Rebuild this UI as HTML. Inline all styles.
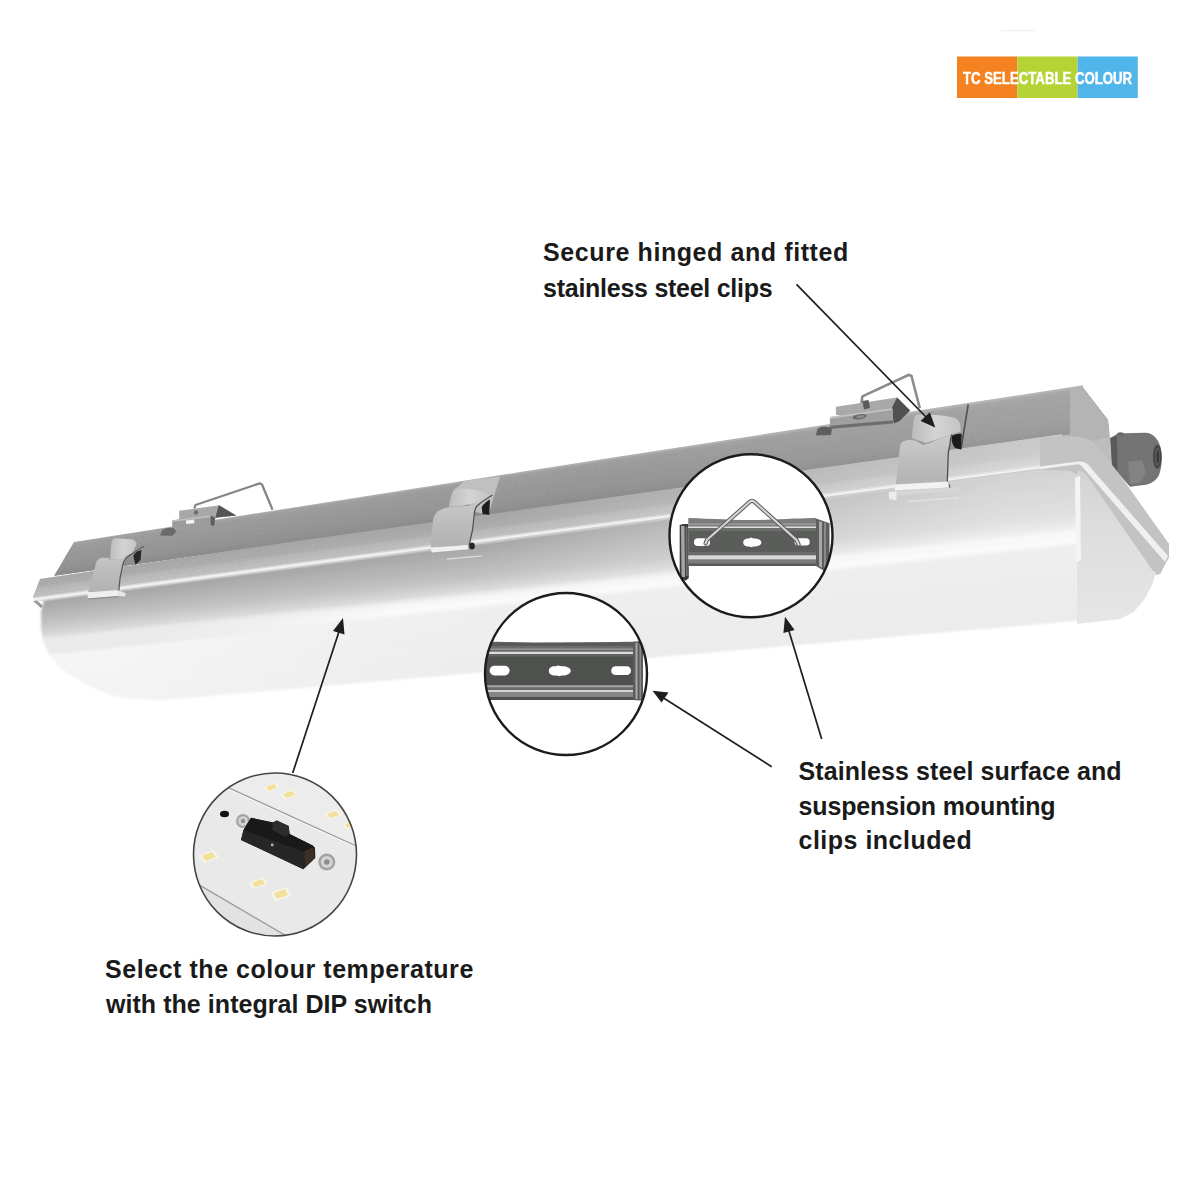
<!DOCTYPE html>
<html><head><meta charset="utf-8"><style>
html,body{margin:0;padding:0;background:#fff;}
#root{position:relative;width:1200px;height:1200px;overflow:hidden;background:#fff;}
svg{position:absolute;left:0;top:0;}
.t{position:absolute;font-family:"Liberation Sans",sans-serif;font-weight:bold;color:#1a1a1a;white-space:nowrap;font-size:25px;line-height:25px;}
</style></head><body><div id="root">
<svg width="1200" height="1200" viewBox="0 0 1200 1200">
<defs>
<clipPath id="chous"><polygon points="74.0,542.0 600.0,459.4 1083.0,385.3 1083.0,387.5 1108.0,420.0 1109.0,440.0 1087.0,441.0 1070.0,438.0 1060.0,438.0 1000.0,443.8 500.0,513.7 54.0,576.0 54.0,576.0"/></clipPath>
<clipPath id="crim"><polygon points="40.0,579.0 300.0,540.6 800.0,470.8 1062.0,434.1 1062.0,467.4 900.0,488.7 500.0,541.2 44.0,601.1 44.0,601.0 34.0,600.0 33.0,597.0"/></clipPath>
<clipPath id="cdiff"><path d="M 44,600 L 500.0,540.7 L 1078.0,464.3 L 1078,620.8 L 500.0,670.9 L 165,699.9 L 135,699 L 114,696 L 94.5,688.5 L 75,678 L 60,667.5 L 49.5,655.5 L 43.5,642 L 41.2,630 L 41.2,612 Z"/></clipPath>
<filter id="bl0" x="-5%" y="-5%" width="110%" height="110%"><feGaussianBlur stdDeviation="0.45"/></filter>
<filter id="bl1" x="-5%" y="-5%" width="110%" height="110%"><feGaussianBlur stdDeviation="0.6"/></filter>
<filter id="bl2" x="-5%" y="-5%" width="110%" height="110%"><feGaussianBlur stdDeviation="0.9"/></filter>
</defs>
<g filter="url(#bl2)"><g clip-path="url(#cdiff)">
<polygon points="0.0,604.1 1200.0,446.5 1200.0,449.1 0.0,606.7" fill="#a8a8a8"/>
<polygon points="0.0,606.1 1200.0,448.5 1200.0,451.1 0.0,608.7" fill="#a7a7a7"/>
<polygon points="0.0,608.1 1200.0,450.5 1200.0,456.1 0.0,610.6" fill="#a7a7a7"/>
<polygon points="0.0,610.0 1200.0,455.5 1200.0,461.1 0.0,612.6" fill="#aaaaaa"/>
<polygon points="0.0,612.0 1200.0,460.5 1200.0,466.2 0.0,614.5" fill="#adadad"/>
<polygon points="0.0,613.9 1200.0,465.6 1200.0,471.2 0.0,616.4" fill="#b0b0b0"/>
<polygon points="0.0,615.8 1200.0,470.6 1200.0,476.2 0.0,618.4" fill="#b3b3b3"/>
<polygon points="0.0,617.8 1200.0,475.6 1200.0,481.2 0.0,620.3" fill="#b5b5b5"/>
<polygon points="0.0,619.7 1200.0,480.6 1200.0,486.2 0.0,622.3" fill="#b8b8b8"/>
<polygon points="0.0,621.7 1200.0,485.6 1200.0,491.3 0.0,624.2" fill="#bbbbbb"/>
<polygon points="0.0,623.6 1200.0,490.7 1200.0,496.3 0.0,626.2" fill="#bebebe"/>
<polygon points="0.0,625.6 1200.0,495.7 1200.0,501.3 0.0,628.1" fill="#c1c1c1"/>
<polygon points="0.0,627.5 1200.0,500.7 1200.0,503.5 0.0,630.3" fill="#c4c4c4"/>
<polygon points="0.0,629.7 1200.0,502.9 1200.0,505.6 0.0,632.4" fill="#c8c8c8"/>
<polygon points="0.0,631.8 1200.0,505.0 1200.0,507.8 0.0,634.6" fill="#cccccc"/>
<polygon points="0.0,634.0 1200.0,507.2 1200.0,510.0 0.0,636.8" fill="#d0d0d0"/>
<polygon points="0.0,636.2 1200.0,509.4 1200.0,512.1 0.0,638.9" fill="#d4d4d4"/>
<polygon points="0.0,638.3 1200.0,511.5 1200.0,514.3 0.0,641.1" fill="#d8d8d8"/>
<polygon points="0.0,640.5 1200.0,513.7 1200.0,516.3 0.0,643.1" fill="#dedede"/>
<polygon points="0.0,642.5 1200.0,515.7 1200.0,518.3 0.0,645.1" fill="#e8e8e8"/>
<polygon points="0.0,644.5 1200.0,517.7 1200.0,520.3 0.0,647.1" fill="#f0f0f0"/>
<polygon points="0.0,646.5 1200.0,519.7 1200.0,522.3 0.0,649.1" fill="#f6f6f6"/>
<polygon points="0.0,648.5 1200.0,521.7 1200.0,524.3 0.0,651.1" fill="#f7f7f7"/>
<polygon points="0.0,650.5 1200.0,523.7 1200.0,526.3 0.0,653.1" fill="#f9f9f9"/>
<polygon points="0.0,652.5 1200.0,525.7 1200.0,528.3 0.0,655.1" fill="#fafafa"/>
<polygon points="0.0,654.5 1200.0,527.7 1200.0,530.3 0.0,657.1" fill="#f9f9f9"/>
<polygon points="0.0,656.5 1200.0,529.7 1200.0,532.3 0.0,659.1" fill="#f4f4f4"/>
<polygon points="0.0,658.5 1200.0,531.7 1200.0,534.3 0.0,661.1" fill="#f0f0f0"/>
<polygon points="0.0,660.5 1200.0,533.7 1200.0,541.9 0.0,666.4" fill="#eeeeee"/>
<polygon points="0.0,665.8 1200.0,541.3 1200.0,549.6 0.0,671.8" fill="#eeeeee"/>
<polygon points="0.0,671.2 1200.0,549.0 1200.0,557.2 0.0,677.1" fill="#eeeeee"/>
<polygon points="0.0,676.5 1200.0,556.6 1200.0,564.8 0.0,682.5" fill="#ededed"/>
<polygon points="0.0,681.9 1200.0,564.2 1200.0,572.4 0.0,687.8" fill="#ededed"/>
<polygon points="0.0,687.2 1200.0,571.8 1200.0,580.1 0.0,693.2" fill="#ededed"/>
<polygon points="0.0,692.6 1200.0,579.5 1200.0,587.7 0.0,698.5" fill="#ededed"/>
<polygon points="0.0,697.9 1200.0,587.1 1200.0,595.3 0.0,703.8" fill="#ececec"/>
<polygon points="0.0,703.2 1200.0,594.7 1200.0,602.9 0.0,709.2" fill="#ececec"/>
<polygon points="0.0,708.6 1200.0,602.3 1200.0,610.6 0.0,714.5" fill="#ececec"/>
<linearGradient id="govd" gradientUnits="userSpaceOnUse" x1="480" y1="0" x2="1000" y2="0"><stop offset="0" stop-color="#fff" stop-opacity="0"/><stop offset="1" stop-color="#fff" stop-opacity="0.5"/></linearGradient>
<polygon points="300.0,565.0 1080.0,462.6 1080.0,533.7 300.0,616.1" fill="url(#govd)"/>
<linearGradient id="govl" gradientUnits="userSpaceOnUse" x1="120" y1="0" x2="520" y2="0"><stop offset="0" stop-color="#fff" stop-opacity="0.4"/><stop offset="1" stop-color="#fff" stop-opacity="0"/></linearGradient>
<polygon points="30.0,650.6 600.0,590.4 600.0,665.3 30.0,714.6" fill="url(#govl)"/>
<linearGradient id="govw" gradientUnits="userSpaceOnUse" x1="150" y1="0" x2="400" y2="0"><stop offset="0" stop-color="#e9e9e9" stop-opacity="0.95"/><stop offset="1" stop-color="#e9e9e9" stop-opacity="0"/></linearGradient>
<polygon points="30.0,641.6 400.0,602.5 400.0,617.5 30.0,656.6" fill="url(#govw)"/>
</g></g>
<linearGradient id="gend" x1="0" y1="0" x2="0" y2="1"><stop offset="0" stop-color="#d2d2d2"/><stop offset="0.45" stop-color="#dedede"/><stop offset="1" stop-color="#e6e6e6"/></linearGradient>
<polygon points="1070,389 1083,387.5 1108,420 1110,436 1113,487 1150,522 1169,544 1169,557 1160,574 1140,578 1085,480 1070,470" fill="#bdbdbd"/>
<polygon points="1077,466 1086,469 1158,566 1152,585 1144,600 1134,612 1120,619 1077,624" fill="url(#gend)"/>
<polygon points="1075,478 1080,476 1081,560 1076,563" fill="#f4f4f4"/>
<polygon points="1040,430 1076,428 1076,446 1040,446" fill="#b4b4b4"/>
<g filter="url(#bl0)"><g clip-path="url(#chous)">
<polygon points="0.0,550.2 1200.0,366.0 1200.0,370.1 0.0,554.3" fill="#aeaeae"/>
<polygon points="0.0,553.7 1200.0,369.5 1200.0,372.6 0.0,556.8" fill="#a0a0a0"/>
<polygon points="0.0,556.2 1200.0,372.0 1200.0,376.7 0.0,558.8" fill="#9c9c9c"/>
<polygon points="0.0,558.2 1200.0,376.1 1200.0,380.7 0.0,560.8" fill="#9a9a9a"/>
<polygon points="0.0,560.2 1200.0,380.1 1200.0,384.8 0.0,562.8" fill="#9a9a9a"/>
<polygon points="0.0,562.2 1200.0,384.2 1200.0,388.9 0.0,564.8" fill="#989898"/>
<polygon points="0.0,564.2 1200.0,388.3 1200.0,392.9 0.0,566.8" fill="#989898"/>
<polygon points="0.0,566.2 1200.0,392.3 1200.0,397.0 0.0,568.8" fill="#969696"/>
<polygon points="0.0,568.2 1200.0,396.4 1200.0,401.1 0.0,570.9" fill="#969696"/>
<polygon points="0.0,570.3 1200.0,400.5 1200.0,405.2 0.0,572.9" fill="#949494"/>
<polygon points="0.0,572.3 1200.0,404.6 1200.0,407.4 0.0,575.1" fill="#939393"/>
<polygon points="0.0,574.5 1200.0,406.8 1200.0,409.6 0.0,577.3" fill="#929292"/>
<polygon points="0.0,576.7 1200.0,409.0 1200.0,411.8 0.0,579.5" fill="#909090"/>
<polygon points="0.0,578.9 1200.0,411.2 1200.0,414.0 0.0,581.7" fill="#8e8e8e"/>
<polygon points="0.0,581.1 1200.0,413.4 1200.0,416.2 0.0,583.9" fill="#8d8d8d"/>
<linearGradient id="govh" gradientUnits="userSpaceOnUse" x1="600" y1="0" x2="1080" y2="0"><stop offset="0" stop-color="#fff" stop-opacity="0"/><stop offset="1" stop-color="#fff" stop-opacity="0.1"/></linearGradient>
<polygon points="500.0,472.7 1090.0,382.2 1090.0,432.2 500.0,514.7" fill="url(#govh)"/>
<polygon points="1070,389 1083,387.5 1108,420 1109,437 1089,441.5 1070,438" fill="#b4b4b4"/>
</g></g>
<g clip-path="url(#crim)">
<polygon points="0.0,582.3 1200.0,414.6 1200.0,418.3 0.0,584.3" fill="#a6a6a6"/>
<polygon points="0.0,583.7 1200.0,417.7 1200.0,421.5 0.0,585.8" fill="#a7a7a7"/>
<polygon points="0.0,585.2 1200.0,420.9 1200.0,424.6 0.0,587.3" fill="#a8a8a8"/>
<polygon points="0.0,586.7 1200.0,424.0 1200.0,427.8 0.0,588.7" fill="#a9a9a9"/>
<polygon points="0.0,588.1 1200.0,427.2 1200.0,430.9 0.0,590.2" fill="#aaaaaa"/>
<polygon points="0.0,589.6 1200.0,430.3 1200.0,434.1 0.0,591.7" fill="#ababab"/>
<polygon points="0.0,591.1 1200.0,433.5 1200.0,436.1 0.0,593.7" fill="#b0b0b0"/>
<polygon points="0.0,593.1 1200.0,435.5 1200.0,438.2 0.0,595.8" fill="#b7b7b7"/>
<polygon points="0.0,595.2 1200.0,437.6 1200.0,440.3 0.0,597.9" fill="#b9b9b9"/>
<polygon points="0.0,597.3 1200.0,439.7 1200.0,442.5 0.0,600.1" fill="#bcbcbc"/>
<polygon points="0.0,599.5 1200.0,441.9 1200.0,444.6 0.0,602.2" fill="#bebebe"/>
<polygon points="0.0,601.6 1200.0,444.0 1200.0,445.9 0.0,603.5" fill="#d8d8d8"/>
<polygon points="0.0,602.9 1200.0,445.3 1200.0,448.3 0.0,605.9" fill="#f0f0f0"/>
<polygon points="0.0,605.3 1200.0,447.7 1200.0,449.6 0.0,607.2" fill="#cccccc"/>
<linearGradient id="govr" gradientUnits="userSpaceOnUse" x1="500" y1="0" x2="1070" y2="0"><stop offset="0" stop-color="#fff" stop-opacity="0"/><stop offset="1" stop-color="#fff" stop-opacity="0.42"/></linearGradient>
<polygon points="300.0,540.6 1080.0,431.6 1080.0,460.6 300.0,563.0" fill="url(#govr)"/>
</g>
<path d="M1110.3,438 L1117,434 L1124,433.3 L1145,432.7 C1152,432.5 1158,438 1160.5,447 C1162.5,455 1162,468 1159,475 C1156,481 1150,484.5 1144,485 L1130,486.7 L1112,466 Z" fill="#747474"/>
<path d="M1110.3,438 L1117,436 L1117.5,472 L1112,466 Z" fill="#5a5a5a"/>
<ellipse cx="1120.5" cy="434.3" rx="3.5" ry="2" fill="#6a6a6a"/>
<path d="M1128,462 L1142,460 L1146,472 L1140,483 L1130,484 Z" fill="#838383"/>
<ellipse cx="1157.3" cy="456.7" rx="4.4" ry="12" fill="#474747"/>
<ellipse cx="1157.6" cy="456.7" rx="2.6" ry="9" fill="#5c5c5c"/>
<ellipse cx="1157.8" cy="456.7" rx="1.4" ry="6.5" fill="#3a3a3a"/>
<path d="M1040,437.2 L1070.5,436.2 C1078,437 1084,438 1087,439 C1092,441 1096,444 1099,448 L1120,475 L1169,544 L1169,557 L1160,574 L1153,571 L1090,480 C1087,475 1084,472 1080,471 L1040,469.8 Z" fill="#c3c3c3"/>
<path d="M1040,466.6 L1078,461.6 C1083,461.6 1087,462.3 1090,467 L1168,556 L1165,562 L1086,471 C1084,469 1081,464.3 1078,464.3 L1040,469.3 Z" fill="#f0f0f0"/>
<!-- ===== LEFT BRACKET (top) ===== -->
<g id="lbr">
<polyline points="194.3,508.5 195.5,505 259.7,483.4 262,484.5 272.5,509.7" fill="none" stroke="#858585" stroke-width="2.3" stroke-linejoin="round"/>
<path d="M160,535.5 L162.5,530 C165,528 170,527.5 173.5,528 L176.5,531.5 L172.5,535.8 Z" fill="#6a6a6a"/>
<polygon points="179.2,510.8 217.7,505.6 236.3,515.5 215.3,517.8 179.2,520.5" fill="#a8a8a8"/>
<polygon points="218.8,505 236.3,515.5 215.3,517.8" fill="#555"/>
<polygon points="172.2,520.2 210.7,515.5 212,516 212,524.8 172.2,528.3" fill="#9c9c9c"/>
<polygon points="172.2,520.2 210.7,515.5 210.7,517 172.2,521.7" fill="#c2c2c2"/>
<polygon points="210.7,515.5 215.3,517.8 214,526 210.7,525" fill="#5e5e5e"/>
<rect x="186" y="520" width="8.3" height="3.6" fill="#f4f4f4" transform="rotate(-6 190 522)"/>
<circle cx="196" cy="512.5" r="2.2" fill="#6e6e6e"/>
</g>
<!-- ===== RIGHT BRACKET (top) ===== -->
<g id="rbr">
<polyline points="861.3,404 862.4,396.4 909,374.8 911.5,376 919.8,408.3" fill="none" stroke="#8c8c8c" stroke-width="2.6" stroke-linejoin="round"/>
<path d="M815.8,435.4 L817.5,429 C819,427 823,426.6 826,426.8 L832,428 L831,435 Z" fill="#5e5e5e"/>
<polygon points="835.9,406.7 897.1,397.5 910.1,410.5 893.8,423.5 835.9,414.8" fill="#a9a9a9"/>
<polygon points="897.1,397.5 910.1,410.5 899.3,421.3 893.8,423.5 891.7,408.3" fill="#505050"/>
<polygon points="829.9,417 891.7,408.3 893,409 893,420.3 829.9,425.7" fill="#a0a0a0"/>
<polygon points="829.9,417 891.7,408.3 891.7,410 829.9,418.8" fill="#c4c4c4"/>
<polygon points="829.9,425.7 893,420.3 893,423.5 829.9,429" fill="#6e6e6e"/>
<ellipse cx="859.7" cy="416.7" rx="7" ry="2.6" fill="#6a6a6a" transform="rotate(-8 859.7 416.7)"/>
<ellipse cx="860.5" cy="416.6" rx="4" ry="1.3" fill="#8e8e8e" transform="rotate(-8 860.5 416.6)"/>
<path d="M862.4,401 L868.5,400 L870,408 L864,409.4 Z" fill="#5a5a5a"/>
</g>
<defs>
<linearGradient id="gclipf" x1="0" y1="0" x2="0" y2="1"><stop offset="0" stop-color="#cccccc"/><stop offset="0.5" stop-color="#bdbdbd"/><stop offset="1" stop-color="#b2b2b2"/></linearGradient>
<linearGradient id="gclipb" x1="0" y1="0" x2="1" y2="0"><stop offset="0" stop-color="#bcbcbc"/><stop offset="0.5" stop-color="#d4d4d4"/><stop offset="1" stop-color="#c4c4c4"/></linearGradient>
</defs>
<!-- ===== LEFT CLIP ===== -->
<g id="lclip">
<path d="M110,559.7 L111,545 C111.5,540 113,538.3 116,538.3 L131,539.2 C134,539.7 136,541.5 136.7,543.7 L133,552 L120,559.7 Z" fill="url(#gclipb)"/>
<path d="M133.3,556 C135,552.5 138,550.5 141.5,549.5 L140.5,560 L135.5,565 Z" fill="#262626"/>
<path d="M88,592 L95.3,566.3 C95.8,563 96.5,561.5 97.3,560.3 C99,558.5 100.5,557.8 102,557.7 L108,557.7 C109,558 109.5,558.8 110,559.7 L120,559.7 C122,558 124.5,555.5 126.7,554.3 C129,553.2 131,552.8 133.3,552.3 C136,551.6 138,551 140,550.3 C141.5,549.3 143,547.8 144,546.3 C140,549 134,552.5 130,555 C126,557.5 123.5,561 122.7,565 L120,578.3 L118.7,591.7 Z" fill="url(#gclipf)"/>
<path d="M144,546.3 C140,549 134,552.5 130,555 C126,557.5 123.5,561 122.7,565 L120,578.3 L118.7,591.7" fill="none" stroke="#555" stroke-width="1.2"/>
<polygon points="87,592.5 117.5,590 118.5,596 88,598.5" fill="#efefef"/>
<line x1="88" y1="599" x2="118.5" y2="596.5" stroke="#8a8a8a" stroke-width="1"/>
<polygon points="117.5,590 126,593.5 125,596.5 118.5,596" fill="#e6e6e6"/>
<polygon points="33,601 37,600.5 43,606 41,608" fill="#9a9a9a"/>
</g>
<!-- ===== MIDDLE CLIP ===== -->
<g id="mclip">
<path d="M455.8,488.3 L465,480.8 L500,476.7 L488.3,515 L476,512 Z" fill="#c0c0c0"/>
<path d="M449,507 C450,498 452,491 455.8,488.3 C466,488.5 478,490 486.7,493.3 C488.5,494.5 489.5,496 490,497.5 C482,501 470,504.5 458,506.5 Z" fill="url(#gclipb)"/>
<path d="M481.7,507 C484,503.5 487,501 490,499.5 L489.2,515 L482.5,514 Z" fill="#1c1c1c"/>
<path d="M430.8,547.5 L433,520 C434,515 436.5,511.5 440,510 C443,508.5 445,507.8 447.5,507.5 C452,507 455,506.7 457.5,506.7 C463,506.2 468,505.7 473.3,505 C476,503.8 478,502.5 480,501.5 C484,499 488,497 492.5,495 C486,499 480,503 477,506 C475,508 474.6,511 474.3,514 L472.5,530 L469.2,545 Z" fill="url(#gclipf)"/>
<path d="M492.5,495 C486,499 480,503 477,506 C475,508 474.6,511 474.3,514 L472.5,530 L469.2,545" fill="none" stroke="#4e4e4e" stroke-width="1.2"/>
<polygon points="430.8,548.3 467.5,545 468.3,549.2 431.7,552.5" fill="#f0f0f0"/>
<ellipse cx="472" cy="546" rx="2.8" ry="3.5" fill="#262626"/>
<line x1="446.7" y1="559.2" x2="481.7" y2="555.8" stroke="#dcdcdc" stroke-width="1.3"/>
</g>
<!-- ===== RIGHT CLIP ===== -->
<g id="rclip">
<line x1="968.2" y1="404.5" x2="961" y2="449.2" stroke="#505050" stroke-width="1.6"/>
<path d="M911.8,438 L913.5,420 C914,416 916,414.2 920,414.2 C935,414.5 950,415.5 956,418.5 C960,421 961,426 960.7,431.4 L952,434.3 C945,436.5 935,440 926,443 Z" fill="url(#gclipb)"/>
<path d="M952,436 C955,434 959,433.5 961.7,434 L961,449.6 L955,448 C952,444 951,440 952,436 Z" fill="#1c1c1c"/>
<path d="M895.5,486 L900,446 C900.5,443 903,441 906,440.5 L909,440 C912,440 914.5,440.5 916.6,441 C919,442.5 921,444.5 923.4,444.9 C926,444.5 928,443.5 930,443 C933,441.5 936,440 938.7,439 L952,434.3 C950.5,437 950.2,440 950.2,443 L948.3,452.5 L947.3,481.3 L950.2,488 Z" fill="url(#gclipf)"/>
<path d="M952,434.3 C950.5,437 950.2,440 950.2,443 L948.3,452.5 L947.3,481.3 L950.2,488" fill="none" stroke="#4e4e4e" stroke-width="1.3"/>
<polygon points="894.6,484.5 948.3,481.5 949,487.5 895,490.5" fill="#f2f2f2"/>
<polygon points="889,492 958,487 959,491 890,496" fill="#d6d6d6"/>
<polygon points="888.8,492 896.5,491.5 896.5,500.5 889,499" fill="#ececec"/>
<line x1="907" y1="501.5" x2="958" y2="498" stroke="#e0e0e0" stroke-width="1.4"/>
</g>
<!-- ===== CIRCLE 1 (V-wire bracket) ===== -->
<defs>
<clipPath id="cc1"><circle cx="751" cy="535.8" r="81.5"/></clipPath>
<clipPath id="cc2"><circle cx="566" cy="674" r="81"/></clipPath>
<clipPath id="cc3"><circle cx="275" cy="854.5" r="81.5"/></clipPath>
<linearGradient id="steel1" x1="0" y1="0" x2="0" y2="1">
<stop offset="0" stop-color="#d6d6d6"/><stop offset="0.08" stop-color="#8a8a8a"/><stop offset="0.18" stop-color="#b8b8b8"/>
<stop offset="0.25" stop-color="#6e6e6e"/><stop offset="0.5" stop-color="#5e5e5e"/><stop offset="0.72" stop-color="#6a6a6a"/>
<stop offset="0.78" stop-color="#c8c8c8"/><stop offset="0.86" stop-color="#7a7a7a"/><stop offset="0.94" stop-color="#a0a0a0"/><stop offset="1" stop-color="#e0e0e0"/>
</linearGradient>
<linearGradient id="steel2" x1="0" y1="0" x2="0" y2="1">
<stop offset="0" stop-color="#9a9a9a"/><stop offset="0.06" stop-color="#6a6a6a"/><stop offset="0.2" stop-color="#8a8a8a"/>
<stop offset="0.24" stop-color="#d0d0d0"/><stop offset="0.3" stop-color="#5a5a5a"/><stop offset="0.5" stop-color="#4e4e4e"/><stop offset="0.74" stop-color="#5c5c5c"/>
<stop offset="0.79" stop-color="#c8c8c8"/><stop offset="0.85" stop-color="#707070"/><stop offset="0.95" stop-color="#8c8c8c"/><stop offset="1" stop-color="#d8d8d8"/>
</linearGradient>
</defs>
<circle cx="751" cy="535.8" r="81.5" fill="#fff"/>
<g clip-path="url(#cc1)">
<!-- left flange -->
<path d="M679.7,525 L683,524 L688.3,524 L688.8,578 L686,580.5 L681,580 L679.7,577 Z" fill="#3c3c3c"/>
<polygon points="681,526 684.5,526 685,577 681.5,577" fill="#a4a4a4"/>
<polygon points="685.5,527 687.5,527 687.8,576 685.8,576" fill="#6a6a6a"/>
<!-- right flange -->
<polygon points="816,518.5 829.5,523.3 829.5,574 816,566" fill="#5e5e5e"/>
<polygon points="819,521 822,522 822,568 819,566" fill="#a8a8a8"/>
<polygon points="824,522.5 826,523 826,570 824,569" fill="#8a8a8a"/>
<!-- top flange -->
<path d="M688.3,518 C715,519 745,520.5 760,520 C785,519 805,518.3 816,518.1 L816,527.5 L688.3,527.5 Z" fill="#7c7c7c"/>
<polygon points="688.3,523.5 816,523.5 816,524.8 688.3,524.8" fill="#a6a6a6"/>
<polygon points="688.3,526.6 816,526.6 816,528 688.3,528" fill="#e0e0e0"/>
<!-- main face -->
<polygon points="688.3,528 816,528 816,555.2 688.3,555.2" fill="#5b5d5b"/>
<polygon points="688.3,528 816,528 816,531 688.3,531" fill="#6c6e6c"/>
<polygon points="688.3,552 816,552 816,555.2 688.3,555.2" fill="#6a6a6a"/>
<!-- bottom flange -->
<polygon points="688.3,555.2 816,555.2 816,556.5 688.3,556.5" fill="#b4b4b4"/>
<polygon points="688.3,556.5 816,556.5 816,559.3 688.3,559.3" fill="#d8d8d8"/>
<polygon points="688.3,559.3 816,559.3 816,566 688.3,566" fill="#7a7a7a"/>
<polygon points="688.3,563.5 816,563.5 816,566 688.3,566" fill="#5a5a5a"/>
<!-- holes -->
<rect x="694" y="538.3" width="16" height="7.7" rx="3.8" fill="#fff"/>
<path d="M743.2,542.5 C743.2,539.5 746,538.2 749,538.4 L751,537.6 L753.5,538.4 C757,538.2 761.4,539.5 761.4,542.5 C761.4,545.5 757,546.8 753.5,546.6 L751.5,547.3 L749,546.6 C746,546.8 743.2,545.5 743.2,542.5 Z" fill="#fff"/>
<rect x="794.6" y="538.3" width="15.1" height="7.1" rx="3.5" fill="#fff"/>
<!-- wire -->
<path d="M705.6,543.5 L706.8,540 L749.5,502 C751,500.5 753,500.5 754.5,502 L796.5,540 L798.6,544.5" fill="none" stroke="#5a5a5a" stroke-width="4.2" stroke-linejoin="round" stroke-linecap="round"/>
<path d="M705.6,543.5 L706.8,540 L749.5,502 C751,500.5 753,500.5 754.5,502 L796.5,540 L798.6,544.5" fill="none" stroke="#d4d4d4" stroke-width="2.2" stroke-linejoin="round" stroke-linecap="round"/>
</g>
<circle cx="751" cy="535.8" r="81.5" fill="none" stroke="#1c1c1c" stroke-width="2.4"/>
<!-- ===== CIRCLE 2 (strip bracket) ===== -->
<circle cx="566" cy="674" r="81" fill="#fff"/>
<g clip-path="url(#cc2)">
<path d="M470,641.7 C500,641.5 520,642 535,643 C560,642.5 600,642.5 640,641.5 L640,700 L470,700 Z" fill="#6c6c6c"/>
<polygon points="470,642.5 640,642.5 640,646 470,646" fill="#5a5a5a"/>
<polygon points="470,648.5 640,648.5 640,649.7 470,649.7" fill="#9a9a9a"/>
<polygon points="470,651.8 640,651.8 640,654.2 470,654.2" fill="#dcdcdc"/>
<polygon points="470,654.2 640,654.2 640,685.2 470,685.2" fill="#4e514e"/>
<polygon points="470,654.2 640,654.2 640,656.5 470,656.5" fill="#626462"/>
<polygon points="470,685.2 640,685.2 640,687.5 470,687.5" fill="#a4a4a4"/>
<polygon points="470,687.5 640,687.5 640,690 470,690" fill="#6a6a6a"/>
<polygon points="470,690 640,690 640,692.3 470,692.3" fill="#d6d6d6"/>
<polygon points="470,692.3 640,692.3 640,697 470,697" fill="#868686"/>
<polygon points="470,697 640,697 640,700 470,700" fill="#505050"/>
<!-- right fold -->
<polygon points="633,641.8 640.5,641.5 643,644 643,699 640.5,700.5 633,700" fill="#5c5c5c"/>
<polygon points="635.5,643 637.5,643 637.5,699 635.5,699" fill="#a8a8a8"/>
<polygon points="639.5,643 641,643.5 641,699 639.5,699.5" fill="#8a8a8a"/>
<!-- holes -->
<rect x="489.6" y="665.8" width="20" height="9.6" rx="4.8" fill="#fff"/>
<path d="M548.8,670.8 C548.8,667.5 552,665.8 555.5,666.2 L558,665.4 L561.5,666.2 C565.5,665.8 570.8,667.5 570.8,670.8 C570.8,674.3 565.5,675.9 561.5,675.5 L559.5,676.3 L556,675.5 C552,675.9 548.8,674.3 548.8,670.8 Z" fill="#fff"/>
<rect x="611.2" y="666.3" width="19.8" height="8.7" rx="4.3" fill="#fff"/>
</g>
<circle cx="566" cy="674" r="81" fill="none" stroke="#1c1c1c" stroke-width="2.4"/>
<!-- ===== CIRCLE 3 (PCB + DIP switch) ===== -->
<circle cx="275" cy="854.5" r="81.5" fill="#e9e9e9"/>
<g clip-path="url(#cc3)">
<polygon points="150,740 400,740 400,868 229,788.5 150,752" fill="#ececec"/>
<line x1="150" y1="752" x2="400" y2="866" stroke="#9a9a9a" stroke-width="1.3"/>
<line x1="150" y1="753.5" x2="400" y2="867.5" stroke="#f8f8f8" stroke-width="1"/>
<polygon points="150,856 300,944 150,944" fill="#e2e2e2"/>
<line x1="150" y1="856" x2="300" y2="944" stroke="#9a9a9a" stroke-width="1.3"/>
<ellipse cx="224.5" cy="814" rx="4.5" ry="3.3" fill="#111"/>
<circle cx="243" cy="821" r="7" fill="#a4a4a4"/><circle cx="243" cy="821" r="4.8" fill="#d2d2d2"/><circle cx="243" cy="821" r="2.2" fill="#909090"/>
<circle cx="326.8" cy="862" r="8.5" fill="#a2a2a2"/><circle cx="326.8" cy="862" r="6" fill="#d4d4d4"/><circle cx="326.8" cy="862" r="2.8" fill="#8e8e8e"/>
<polygon points="251,817.8 273,822.4 276.8,820.5 288.7,826 289.6,834 312.6,845.4 315,848 315.3,858 303.4,869.2 241,840 243.5,830" fill="#222"/>
<polygon points="243.5,830 251,817.8 273,822.4 289.6,834 312.6,845.4 315,848 304,852" fill="#191919"/>
<polygon points="273,822.4 276.8,820.5 288.7,826 289.6,834 285,836.5 272,830" fill="#2c2c2c"/>
<polygon points="241,840 243.5,830 304,852 303.4,869.2" fill="#262626"/>
<polygon points="304.3,851 313.5,847.5 314.5,858 305,867.5" fill="#3b3026"/>
<circle cx="272.2" cy="844.9" r="1.4" fill="#bbb"/>
<polygon points="263.5,786.9 275.1,782.5 279.5,786.9 267.9,792.7" fill="#f7f5ea"/>
<polygon points="266.0,787.0 274.0,784.0 277.0,787.0 269.0,791.0" fill="#f2e09a"/>
<polygon points="280.3,793.8 293.4,789.4 297.7,795.2 284.6,799.6" fill="#f7f5ea"/>
<polygon points="283.0,794.0 292.0,791.0 295.0,795.0 286.0,798.0" fill="#f2e09a"/>
<polygon points="324.3,813.8 337.4,809.4 341.7,815.2 328.6,819.6" fill="#f7f5ea"/>
<polygon points="327.0,814.0 336.0,811.0 339.0,815.0 330.0,818.0" fill="#f2e09a"/>
<polygon points="343.0,823.8 353.1,819.4 356.0,825.2 345.9,829.6" fill="#f7f5ea"/>
<polygon points="345.0,824.0 352.0,821.0 354.0,825.0 347.0,828.0" fill="#f2e09a"/>
<polygon points="198.8,855.8 213.3,850.0 219.2,857.2 204.7,863.0" fill="#f7f5ea"/>
<polygon points="202.0,856.0 212.0,852.0 216.0,857.0 206.0,861.0" fill="#f2e09a"/>
<polygon points="249.1,882.9 263.6,877.1 267.9,884.3 253.4,888.7" fill="#f7f5ea"/>
<polygon points="252.0,883.0 262.0,879.0 265.0,884.0 255.0,887.0" fill="#f2e09a"/>
<polygon points="270.9,892.5 286.8,886.8 291.1,895.5 275.2,901.2" fill="#f7f5ea"/>
<polygon points="274.0,893.0 285.0,889.0 288.0,895.0 277.0,899.0" fill="#f2e09a"/>
</g>
<circle cx="275" cy="854.5" r="81.5" fill="none" stroke="#444" stroke-width="1.6"/>
<!-- ===== ARROWS ===== -->
<g stroke="#1e1e1e" stroke-width="1.7" fill="none">
<line x1="796.5" y1="284.3" x2="927" y2="418"/>
<line x1="292.7" y1="773" x2="339.5" y2="630"/>
<line x1="821.7" y1="739" x2="788" y2="628"/>
<line x1="771.7" y1="766.7" x2="662" y2="697"/>
</g>
<g fill="#1e1e1e">
<polygon points="935.3,427.5 920.6,421 929.8,412.3"/>
<polygon points="343,618 344.5,634.5 333,631"/>
<polygon points="785,616.7 794.6,630 783.4,633"/>
<polygon points="652.5,690.8 668.5,692.5 661.5,702.5"/>
</g>
<!-- ===== BADGE ===== -->
<rect x="957" y="56.5" width="60.3" height="41.5" fill="#f58220"/>
<rect x="1017.3" y="56.5" width="60.3" height="41.5" fill="#b5d334"/>
<rect x="1077.6" y="56.5" width="60.2" height="41.5" fill="#50b5e9"/>
<rect x="1001" y="30" width="34" height="1.3" fill="#f2f2f2"/>

</svg>
<div class="t" style="left:543.1px;top:240.3px;letter-spacing:0.585px;">Secure hinged and fitted</div>
<div class="t" style="left:543.1px;top:275.6px;letter-spacing:-0.266px;">stainless steel clips</div>
<div class="t" style="left:798.5px;top:759.0px;letter-spacing:0.083px;">Stainless steel surface and</div>
<div class="t" style="left:798.5px;top:793.5px;letter-spacing:-0.143px;">suspension mounting</div>
<div class="t" style="left:798.5px;top:828.0px;letter-spacing:0.496px;">clips included</div>
<div class="t" style="left:105.0px;top:957.3px;letter-spacing:0.55px;">Select the colour temperature</div>
<div class="t" style="left:106.0px;top:992.3px;letter-spacing:0.049px;">with the integral DIP switch</div>
<div class="t" id="badge" style="left:962.5px;top:69.6px;font-size:16.5px;line-height:16px;color:#fff;-webkit-text-stroke:0.45px #fff;transform:scaleX(0.80);transform-origin:0 0;">TC SELECTABLE COLOUR</div>

</div></body></html>
